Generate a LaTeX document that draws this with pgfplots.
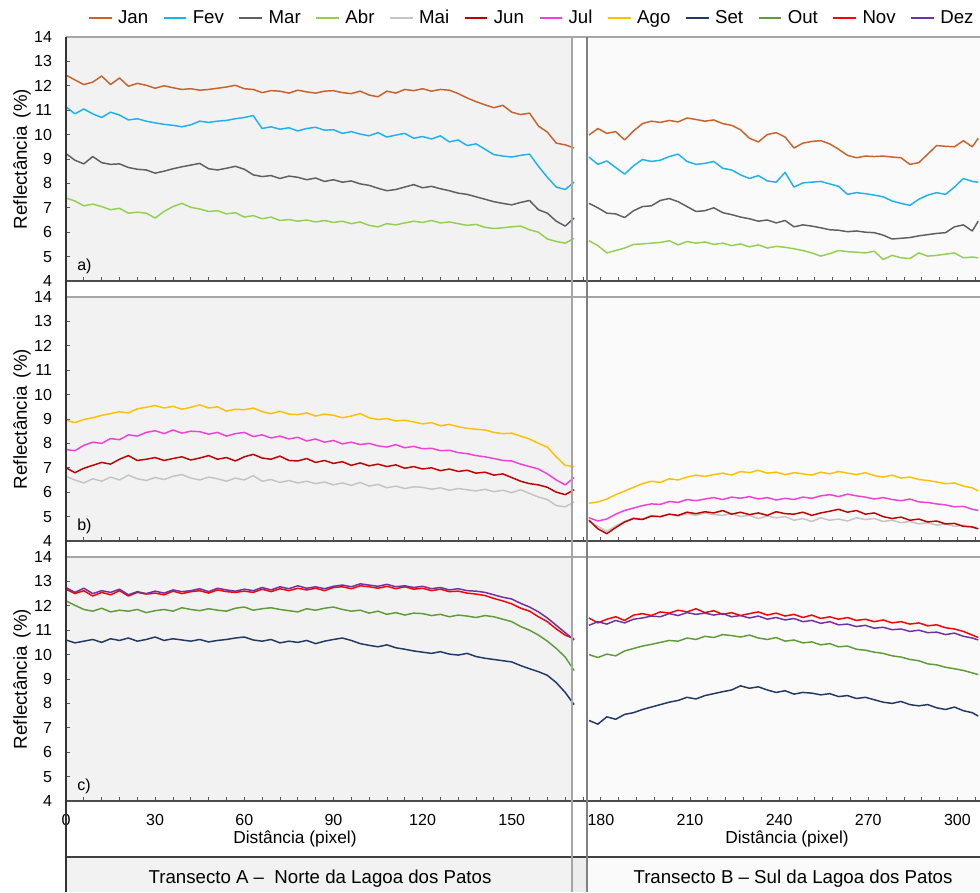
\documentclass[border=0pt]{standalone}
\usepackage{pgfplots}
\pgfplotsset{compat=1.18}
\usepackage{pgfplotstable}
\usepackage{fontspec}
\setmainfont{Liberation Sans}

\definecolor{cJan}{HTML}{C8622A}
\definecolor{cFev}{HTML}{1CB2F0}
\definecolor{cMar}{HTML}{5F5F5F}
\definecolor{cAbr}{HTML}{92D050}
\definecolor{cMai}{HTML}{C4C4C4}
\definecolor{cJun}{HTML}{C00000}
\definecolor{cJul}{HTML}{F23FD8}
\definecolor{cAgo}{HTML}{FFC000}
\definecolor{cSet}{HTML}{203864}
\definecolor{cOut}{HTML}{5E9C3A}
\definecolor{cNov}{HTML}{FF0000}
\definecolor{cDez}{HTML}{7030A0}
\definecolor{bgA}{HTML}{F2F2F2}
\definecolor{bgB}{HTML}{FAFAFA}
\definecolor{bgGap}{HTML}{EDEDED}
\definecolor{lineGrey}{HTML}{A6A6A6}
\definecolor{lineDark}{HTML}{808080}

% Transecto A (left)
\pgfplotstableread{
x Jan Fev Mar Abr Mai Jun Jul Ago Set Out Nov Dez
0 12.44 11.14 9.22 7.40 6.65 7.00 7.75 8.95 10.60 12.20 12.68 12.75
3 12.24 10.85 8.95 7.28 6.50 6.80 7.70 8.85 10.48 12.02 12.50 12.55
6 12.05 11.05 8.80 7.08 6.38 6.98 7.92 8.98 10.55 11.85 12.62 12.72
9 12.15 10.85 9.10 7.15 6.55 7.10 8.05 9.05 10.62 11.78 12.40 12.50
12 12.40 10.70 8.85 7.05 6.45 7.22 8.00 9.15 10.50 11.90 12.55 12.62
15 12.05 10.92 8.78 6.92 6.62 7.15 8.20 9.22 10.65 11.75 12.45 12.55
18 12.32 10.80 8.80 6.98 6.50 7.35 8.15 9.30 10.58 11.82 12.62 12.68
21 11.98 10.60 8.65 6.78 6.70 7.50 8.35 9.25 10.68 11.78 12.40 12.45
24 12.10 10.65 8.58 6.82 6.55 7.30 8.30 9.42 10.55 11.85 12.55 12.58
27 12.02 10.55 8.55 6.78 6.48 7.35 8.45 9.48 10.62 11.72 12.48 12.50
30 11.90 10.48 8.42 6.58 6.60 7.42 8.52 9.55 10.72 11.80 12.52 12.60
33 12.00 10.42 8.50 6.85 6.52 7.30 8.40 9.45 10.58 11.85 12.45 12.52
36 11.92 10.38 8.60 7.05 6.65 7.38 8.55 9.52 10.65 11.78 12.60 12.65
39 11.85 10.32 8.68 7.18 6.72 7.45 8.42 9.40 10.60 11.92 12.50 12.58
42 11.88 10.40 8.75 7.02 6.58 7.32 8.50 9.48 10.55 11.85 12.58 12.62
45 11.82 10.55 8.82 6.95 6.50 7.40 8.48 9.58 10.62 11.80 12.62 12.70
48 11.85 10.50 8.60 6.85 6.62 7.50 8.38 9.45 10.52 11.88 12.52 12.58
51 11.90 10.55 8.55 6.88 6.55 7.35 8.45 9.50 10.58 11.82 12.65 12.72
54 11.95 10.58 8.62 6.75 6.45 7.42 8.30 9.32 10.62 11.78 12.58 12.65
57 12.02 10.65 8.70 6.80 6.58 7.28 8.40 9.40 10.68 11.90 12.55 12.60
60 11.88 10.70 8.58 6.62 6.50 7.45 8.45 9.38 10.72 11.95 12.60 12.68
63 11.85 10.78 8.35 6.68 6.68 7.55 8.28 9.45 10.60 11.82 12.55 12.62
66 11.72 10.25 8.28 6.55 6.45 7.40 8.35 9.30 10.55 11.88 12.68 12.75
69 11.80 10.32 8.32 6.62 6.52 7.35 8.22 9.22 10.62 11.92 12.58 12.65
72 11.78 10.22 8.20 6.48 6.40 7.48 8.30 9.32 10.48 11.85 12.70 12.78
75 11.70 10.28 8.30 6.52 6.48 7.30 8.18 9.20 10.55 11.80 12.62 12.70
78 11.82 10.15 8.25 6.45 6.38 7.28 8.25 9.18 10.50 11.75 12.72 12.82
81 11.75 10.25 8.15 6.50 6.45 7.38 8.10 9.25 10.58 11.88 12.65 12.72
84 11.70 10.30 8.22 6.42 6.35 7.22 8.18 9.12 10.45 11.82 12.72 12.78
87 11.78 10.18 8.08 6.48 6.42 7.30 8.05 9.20 10.55 11.90 12.62 12.70
90 11.80 10.20 8.15 6.40 6.30 7.18 8.12 9.15 10.62 11.95 12.75 12.80
93 11.72 10.05 8.05 6.45 6.38 7.25 7.98 9.05 10.68 11.85 12.78 12.85
96 11.68 10.12 8.10 6.35 6.28 7.10 8.05 9.12 10.58 11.78 12.70 12.78
99 11.78 10.02 7.98 6.42 6.40 7.20 7.95 9.22 10.45 11.82 12.82 12.90
102 11.62 9.95 7.92 6.28 6.25 7.08 8.00 9.05 10.38 11.70 12.78 12.85
105 11.55 10.08 7.80 6.22 6.32 7.15 7.90 8.98 10.32 11.78 12.72 12.80
108 11.78 9.90 7.70 6.35 6.18 7.05 7.85 9.02 10.40 11.65 12.80 12.88
111 11.70 9.98 7.75 6.30 6.25 7.12 7.95 8.92 10.28 11.72 12.70 12.78
114 11.85 10.05 7.85 6.38 6.15 6.98 7.82 8.95 10.22 11.62 12.78 12.82
117 11.80 9.85 7.95 6.45 6.22 7.05 7.88 8.88 10.15 11.70 12.68 12.75
120 11.88 9.92 7.82 6.40 6.20 6.95 7.78 8.80 10.10 11.68 12.72 12.80
123 11.78 9.82 7.88 6.48 6.12 7.00 7.80 8.85 10.05 11.60 12.62 12.70
126 11.85 9.95 7.78 6.38 6.18 6.88 7.70 8.72 10.12 11.65 12.68 12.75
129 11.82 9.70 7.70 6.42 6.08 6.95 7.72 8.78 10.02 11.55 12.58 12.65
132 11.68 9.78 7.60 6.35 6.15 6.85 7.62 8.68 9.98 11.62 12.60 12.70
135 11.50 9.55 7.55 6.28 6.10 6.90 7.58 8.62 10.05 11.58 12.52 12.62
138 11.35 9.62 7.45 6.32 6.05 6.78 7.50 8.58 9.92 11.52 12.48 12.60
141 11.22 9.40 7.35 6.20 6.12 6.82 7.45 8.55 9.85 11.60 12.42 12.55
144 11.10 9.18 7.25 6.15 6.02 6.70 7.38 8.45 9.80 11.55 12.30 12.45
147 11.20 9.12 7.18 6.18 6.08 6.75 7.30 8.40 9.75 11.45 12.20 12.35
150 10.92 9.08 7.12 6.22 5.98 6.60 7.28 8.42 9.70 11.35 12.08 12.28
153 10.82 9.15 7.22 6.25 6.10 6.45 7.15 8.30 9.55 11.15 11.90 12.10
156 10.88 9.20 7.30 6.10 5.95 6.35 7.05 8.18 9.42 11.00 11.78 11.95
159 10.35 8.70 6.92 6.00 5.80 6.30 6.95 8.00 9.30 10.80 11.55 11.75
162 10.10 8.25 6.78 5.72 5.70 6.20 6.75 7.85 9.15 10.55 11.35 11.50
165 9.65 7.85 6.45 5.62 5.45 6.00 6.50 7.45 8.85 10.25 11.05 11.20
168 9.58 7.75 6.25 5.55 5.40 5.90 6.30 7.10 8.45 9.90 10.80 10.90
171 9.45 8.05 6.58 5.75 5.60 6.10 6.60 7.05 7.95 9.35 10.65 10.60
}\tabA

% Transecto B (right)
\pgfplotstableread{
x Jan Fev Mar Abr Mai Jun Jul Ago Set Out Nov Dez
176 9.98 9.08 7.18 5.65 4.80 4.85 4.95 5.55 7.30 10.00 11.50 11.20
179 10.25 8.78 7.00 5.45 4.60 4.50 4.82 5.60 7.15 9.88 11.30 11.35
182 10.05 8.92 6.78 5.15 4.40 4.30 4.90 5.72 7.45 10.02 11.45 11.25
185 10.12 8.65 6.75 5.25 4.62 4.55 5.10 5.90 7.35 9.95 11.55 11.40
188 9.78 8.38 6.60 5.35 4.80 4.78 5.25 6.05 7.55 10.15 11.40 11.30
191 10.15 8.72 6.88 5.50 4.95 4.92 5.35 6.20 7.62 10.25 11.62 11.45
194 10.45 8.98 7.05 5.52 4.90 4.88 5.45 6.35 7.75 10.35 11.68 11.50
197 10.55 8.90 7.08 5.55 5.05 5.02 5.52 6.45 7.85 10.42 11.60 11.58
200 10.50 8.95 7.30 5.58 4.98 5.00 5.50 6.40 7.95 10.50 11.75 11.55
203 10.58 9.10 7.38 5.65 5.10 5.10 5.62 6.55 8.05 10.58 11.70 11.68
206 10.52 9.20 7.25 5.48 5.02 5.05 5.58 6.50 8.12 10.55 11.82 11.60
209 10.68 8.90 7.05 5.62 5.12 5.18 5.70 6.62 8.25 10.68 11.75 11.72
212 10.62 8.78 6.85 5.55 5.05 5.12 5.65 6.70 8.18 10.62 11.88 11.65
215 10.55 8.82 6.88 5.60 5.15 5.20 5.72 6.65 8.32 10.75 11.72 11.70
218 10.60 8.90 7.00 5.50 5.08 5.15 5.78 6.72 8.40 10.70 11.80 11.62
221 10.45 8.62 6.80 5.55 5.05 5.25 5.70 6.78 8.48 10.82 11.65 11.68
224 10.38 8.55 6.72 5.45 5.12 5.10 5.80 6.70 8.55 10.78 11.72 11.55
227 10.20 8.35 6.62 5.52 5.00 5.18 5.75 6.85 8.72 10.72 11.60 11.60
230 9.85 8.20 6.55 5.40 5.05 5.08 5.82 6.80 8.62 10.80 11.68 11.50
233 9.70 8.32 6.45 5.48 4.92 5.15 5.72 6.90 8.68 10.68 11.75 11.58
236 10.00 8.10 6.50 5.35 5.02 5.05 5.78 6.78 8.55 10.62 11.62 11.45
239 10.08 8.05 6.38 5.42 4.95 5.20 5.68 6.82 8.45 10.70 11.70 11.52
242 9.90 8.45 6.48 5.38 5.00 5.12 5.75 6.72 8.52 10.55 11.58 11.42
245 9.45 7.85 6.22 5.32 4.85 5.10 5.70 6.80 8.38 10.60 11.65 11.48
248 9.65 8.02 6.30 5.25 4.92 5.18 5.80 6.75 8.45 10.48 11.52 11.35
251 9.72 8.05 6.25 5.15 4.80 5.05 5.75 6.70 8.42 10.52 11.62 11.40
254 9.75 8.08 6.18 5.02 4.95 5.15 5.85 6.82 8.35 10.40 11.48 11.28
257 9.62 7.98 6.10 5.12 4.85 5.22 5.90 6.75 8.40 10.45 11.55 11.35
260 9.40 7.88 6.08 5.25 4.90 5.30 5.82 6.85 8.28 10.32 11.45 11.22
263 9.15 7.55 6.02 5.20 4.82 5.18 5.92 6.78 8.32 10.35 11.52 11.25
266 9.05 7.62 6.05 5.18 4.95 5.25 5.85 6.72 8.20 10.22 11.40 11.15
269 9.12 7.58 6.00 5.15 4.88 5.10 5.80 6.80 8.25 10.18 11.45 11.20
272 9.10 7.52 5.98 5.22 4.92 5.15 5.72 6.68 8.15 10.10 11.35 11.08
275 9.12 7.45 5.88 4.88 4.80 5.00 5.78 6.62 8.05 10.05 11.42 11.12
278 9.08 7.28 5.72 5.05 4.85 4.92 5.70 6.70 8.00 9.95 11.30 11.02
281 9.05 7.18 5.75 4.95 4.75 4.98 5.65 6.58 8.08 9.90 11.35 11.05
284 8.78 7.10 5.78 4.92 4.80 4.85 5.72 6.62 7.95 9.80 11.25 10.95
287 8.85 7.35 5.85 5.15 4.70 4.90 5.60 6.52 7.90 9.75 11.30 11.00
290 9.20 7.52 5.90 5.02 4.75 4.78 5.58 6.48 7.95 9.62 11.18 10.90
293 9.55 7.62 5.95 5.05 4.65 4.82 5.52 6.42 7.82 9.58 11.22 10.92
296 9.52 7.55 5.98 5.10 4.70 4.70 5.48 6.35 7.75 9.48 11.10 10.82
299 9.50 7.85 6.22 5.15 4.60 4.72 5.40 6.38 7.85 9.42 11.05 10.88
302 9.75 8.20 6.30 4.95 4.65 4.60 5.42 6.25 7.70 9.35 10.95 10.75
305 9.50 8.08 6.05 4.98 4.55 4.58 5.30 6.18 7.62 9.25 10.80 10.68
307 9.85 8.05 6.45 4.95 4.50 4.50 5.25 6.05 7.48 9.18 10.70 10.60
}\tabB

\pgfplotsset{
  panel/.style={
    scale only axis, width=685.5pt, height=183pt,
    xmin=0, xmax=307.6, ymin=4, ymax=14,
    axis x line*=bottom, axis y line*=left,
    axis on top,
    x axis line style={draw=black!70, line width=1pt},
    y axis line style={draw=black!80, line width=1.1pt},
    ytick={4,5,...,14},
    xtick={0,30,...,300}, minor xtick={6,12,...,306},
    tick align=inside, major tick length=3pt, minor tick length=3pt,
    every tick/.style={black!65, line width=0.6pt},
    every minor tick/.style={black!65, line width=0.6pt},
    /pgf/number format/assume math mode=true,
    ticklabel style={font=\fontsize{12}{14}\selectfont},
    yticklabel style={xshift=-7pt},
    xticklabel style={yshift=-6.5pt},
    ylabel={Reflectância \,(\%)},
    every axis y label/.style={at={(axis description cs:-0.0481,0.5)}, rotate=90, anchor=center,
      font=\fontsize{14}{16}\selectfont},
    every axis plot/.append style={line width=1.1pt, line join=round, no markers},
  },
}

\newcommand{\bgfills}{%
  \fill[bgA] (axis cs:0,4) rectangle (axis cs:170.3,14);
  \fill[bgB] (axis cs:175.4,4) rectangle (axis cs:307.6,14);
}
\newcommand{\pair}[1]{%
  \addplot[c#1, forget plot] table[x=x,y=#1]{\tabA};
  \addplot[c#1, forget plot] table[x=x,y=#1]{\tabB};
}

\begin{document}
\begin{tikzpicture}
\useasboundingbox (0pt,0pt) rectangle (735pt,669pt);
\begin{scope}[x=0.75pt, y=-0.75pt, yshift=669pt]
\fill[white] (0,0) rectangle (980,892);
\fill[bgA] (66,857) rectangle (572,892);
\fill[bgGap] (572,857) rectangle (587,892);
\fill[bgB] (587,857) rectangle (980,892);
\end{scope}

% ---------- panel a ----------
\begin{axis}[panel, at={(49.5pt,458.25pt)}, anchor=south west, xticklabels={},
  legend columns=12,
  legend style={at={(axis description cs:0.024,1.078)}, anchor=west,
    draw=none, fill=none, inner sep=0pt,
    font=\fontsize{14}{16}\selectfont,
    /tikz/every odd column/.append style={column sep=2.3pt},
    /tikz/every even column/.append style={column sep=9.1pt}},
  legend image code/.code={\draw[#1, line width=1.1pt] (0pt,0pt) -- (17pt,0pt);},
  legend cell align=left]
  \bgfills
  \addlegendimage{cJan}\addlegendimage{cFev}\addlegendimage{cMar}\addlegendimage{cAbr}
  \addlegendimage{cMai}\addlegendimage{cJun}\addlegendimage{cJul}\addlegendimage{cAgo}
  \addlegendimage{cSet}\addlegendimage{cOut}\addlegendimage{cNov}\addlegendimage{cDez}
  \pair{Jan}\pair{Fev}\pair{Mar}\pair{Abr}
  \node[anchor=base west, inner sep=0pt, font=\fontsize{12}{14}\selectfont] at (axis cs:3.7,4.41) {a)};
  \legend{Jan,Fev,Mar,Abr,Mai,Jun,Jul,Ago,Set,Out,Nov,Dez}
\end{axis}

% ---------- panel b ----------
\begin{axis}[panel, at={(49.5pt,263.25pt)}, anchor=south west, xticklabels={}]
  \bgfills
  \pair{Mai}\pair{Jun}\pair{Jul}\pair{Ago}
  \node[anchor=base west, inner sep=0pt, font=\fontsize{12}{14}\selectfont] at (axis cs:3.7,4.41) {b)};
\end{axis}

% ---------- panel c ----------
\begin{axis}[panel, at={(49.5pt,68.25pt)}, anchor=south west]
  \bgfills
  \pair{Set}\pair{Out}\pair{Nov}\pair{Dez}
  \node[anchor=base west, inner sep=0pt, font=\fontsize{12}{14}\selectfont] at (axis cs:3.7,4.41) {c)};
\end{axis}

\begin{scope}[x=0.75pt, y=-0.75pt, yshift=669pt]
\foreach \yy in {37,297,557} {\draw[lineGrey, line width=1.4pt] (66,\yy) -- (980,\yy);}
\draw[black!75, line width=1.1pt] (66,857) -- (980,857);
\draw[lineGrey, line width=1.5pt] (572,37) -- (572,892);
\draw[lineDark, line width=1.3pt] (587,37) -- (587,892);
\draw[black!80, line width=1.1pt] (66,37) -- (66,892);
\node[anchor=base, inner sep=0pt, font=\fontsize{13}{15}\selectfont] at (295,843.5) {Distância (pixel)};
\node[anchor=base, inner sep=0pt, font=\fontsize{13}{15}\selectfont] at (787,843.5) {Distância (pixel)};
\node[anchor=base, inner sep=0pt, font=\fontsize{14}{16}\selectfont] at (320,883) {Transecto A --\ \ Norte da Lagoa dos Patos};
\node[anchor=base, inner sep=0pt, font=\fontsize{14}{16}\selectfont] at (793,883) {Transecto B -- Sul da Lagoa dos Patos};
\end{scope}
\end{tikzpicture}
\end{document}
